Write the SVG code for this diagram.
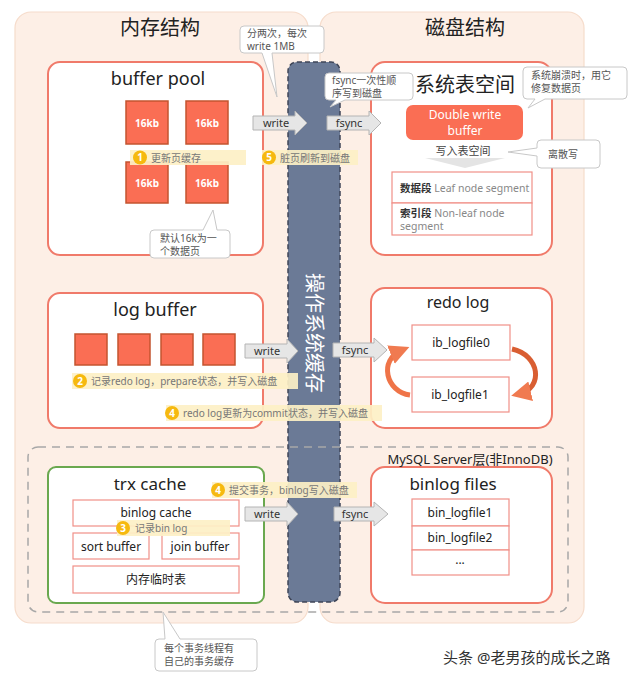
<svg xmlns="http://www.w3.org/2000/svg" width="640" height="681" viewBox="0 0 640 681">
<style>
text{font-family:"Noto Sans","Noto Sans CJK SC",sans-serif;}
.panel{fill:#fdefe6;stroke:#f6dccb;stroke-width:1.2;}
.box{fill:#fff;stroke:#f07a6a;stroke-width:2;}
.gbox{fill:#fff;stroke:#6aa84f;stroke-width:2;}
.cell{fill:#fff;stroke:#f09088;stroke-width:1.2;}
.sq{fill:#fa6e54;stroke:#c4542f;stroke-width:1.5;}
.band{fill:#fdf0c6;opacity:0.92;}
.num{fill:#f6b90f;}
.numt{fill:#fff;font-size:10px;font-weight:bold;text-anchor:middle;}
.bt{fill:#777;font-size:10px;}
.call{fill:#fff;stroke:#c8c8c8;stroke-width:1;}
.ct{fill:#555;font-size:10px;}
.arr{fill:#e6e6e6;stroke:#b4b4b4;stroke-width:1;}
.at{fill:#333;font-size:11px;text-anchor:middle;}
.title{fill:#222;font-size:18px;text-anchor:middle;}
.ht{fill:#222;font-size:20px;text-anchor:middle;}
.lt{fill:#222;font-size:12px;text-anchor:middle;}
</style>
<defs>
<marker id="ah" viewBox="0 0 10 10" refX="6" refY="5" markerWidth="4" markerHeight="4" orient="auto"><path d="M0,0 L10,5 L0,10 Z" fill="#f07a50"/></marker>
</defs>

<g id="memory-panel">
<rect class="panel" x="15" y="12" width="293" height="611" rx="16"/>
<text class="ht" x="160" y="35">内存结构</text>
</g>
<g id="disk-panel">
<rect class="panel" x="320" y="12" width="264" height="611" rx="16"/>
<text class="ht" x="465" y="35">磁盘结构</text>
</g>

<g id="buffer-pool">
<rect class="box" x="48" y="62" width="215" height="193" rx="12"/>
<text class="title" x="158" y="85">buffer pool</text>
<rect class="sq" x="126" y="101" width="42" height="43"/>
<rect class="sq" x="186" y="101" width="42" height="43"/>
<rect class="sq" x="126" y="162" width="42" height="41"/>
<rect class="sq" x="186" y="162" width="42" height="41"/>
<text x="147" y="127" fill="#fff" font-size="10" font-weight="bold" text-anchor="middle">16kb</text>
<text x="207" y="127" fill="#fff" font-size="10" font-weight="bold" text-anchor="middle">16kb</text>
<text x="147" y="187" fill="#fff" font-size="10" font-weight="bold" text-anchor="middle">16kb</text>
<text x="207" y="187" fill="#fff" font-size="10" font-weight="bold" text-anchor="middle">16kb</text>
</g>

<g id="sys-tablespace">
<rect class="box" x="371" y="62" width="181" height="193" rx="14"/>
<text class="ht" x="465" y="92">系统表空间</text>
<rect x="406" y="105" width="117" height="35" rx="7" fill="#fa6e54"/>
<text x="465" y="119" fill="#fff" font-size="12" text-anchor="middle">Double write</text>
<text x="465" y="135" fill="#fff" font-size="12" text-anchor="middle">buffer</text>
<text x="463" y="155" fill="#444" font-size="11" text-anchor="middle">写入表空间</text>
<path d="M425,158 L505,158 L465,168 Z" fill="#e4e4e4"/>
<rect class="cell" x="392" y="172" width="140" height="31"/>
<rect class="cell" x="392" y="203" width="140" height="32"/>
<text x="400" y="192" font-size="10.5"><tspan font-weight="bold" fill="#333">数据段</tspan><tspan fill="#888"> Leaf node segment</tspan></text>
<text x="400" y="217" font-size="10.5"><tspan font-weight="bold" fill="#333">索引段</tspan><tspan fill="#888"> Non-leaf node</tspan></text>
<text x="400" y="230" font-size="10.5" fill="#888">segment</text>
</g>

<g id="log-buffer">
<rect class="box" x="48" y="293" width="215" height="135" rx="12"/>
<text class="title" x="155" y="316">log buffer</text>
<rect class="sq" x="75" y="334" width="32" height="31"/>
<rect class="sq" x="118" y="334" width="32" height="31"/>
<rect class="sq" x="161" y="334" width="32" height="31"/>
<rect class="sq" x="203" y="334" width="32" height="31"/>
</g>

<g id="redo-log">
<rect class="box" x="371" y="288" width="181" height="140" rx="14"/>
<text x="458" y="308" fill="#222" font-size="16" text-anchor="middle">redo log</text>
<rect class="cell" x="412" y="325" width="98" height="35"/>
<rect class="cell" x="412" y="377" width="97" height="35"/>
<text class="lt" x="461" y="347">ib_logfile0</text>
<text class="lt" x="460" y="399">ib_logfile1</text>
</g>

<g id="trx-cache">
<rect class="gbox" x="48" y="467" width="216" height="136" rx="8"/>
<text x="150" y="490" fill="#222" font-size="17" text-anchor="middle">trx cache</text>
<rect class="cell" x="73" y="500" width="166" height="26"/>
<rect class="cell" x="73" y="533" width="76" height="26"/>
<rect class="cell" x="162" y="533" width="77" height="26"/>
<rect class="cell" x="73" y="566" width="166" height="27"/>
<text class="lt" x="156" y="517">binlog cache</text>
<text class="lt" x="111" y="551">sort buffer</text>
<text class="lt" x="200" y="551">join buffer</text>
<text class="lt" x="156" y="584">内存临时表</text>
</g>

<g id="binlog-files">
<rect class="box" x="371" y="467" width="181" height="136" rx="14"/>
<text x="453" y="490" fill="#222" font-size="17" text-anchor="middle">binlog files</text>
<rect class="cell" x="412" y="499" width="97" height="27"/>
<rect class="cell" x="412" y="526" width="97" height="24"/>
<rect class="cell" x="412" y="550" width="97" height="25"/>
<text class="lt" x="460" y="517" font-size="11">bin_logfile1</text>
<text class="lt" x="460" y="542" font-size="11">bin_logfile2</text>
<text class="lt" x="460" y="564" font-size="11">...</text>
</g>

<g id="os-cache">
<rect x="288" y="62" width="52" height="540" rx="9" fill="#6b7a96" stroke="#3f4658" stroke-width="1.5" stroke-dasharray="5,3"/>
<text x="314" y="333" fill="#fff" font-size="20" text-anchor="middle" dominant-baseline="central" transform="rotate(90 314 333)">操作系统缓存</text>
</g>

<g id="mysql-server">
<rect x="28" y="447" width="540" height="165" rx="10" fill="none" stroke="#a8a8a8" stroke-width="1.5" stroke-dasharray="8,6"/>
<text x="470" y="464" fill="#222" font-size="13" text-anchor="middle">MySQL Server层(非InnoDB)</text>
</g>

<g id="connectors">
<path class="arr" d="M253,116 L295,116 L295,111 L307,123 L295,135 L295,130 L253,130 Z"/>
<text class="at" x="276" y="127">write</text>
<path class="arr" d="M327,116 L369,116 L369,111 L381,123 L369,135 L369,130 L327,130 Z"/>
<text class="at" x="349" y="127">fsync</text>
<path class="arr" d="M245,344 L287,344 L287,339 L298,351 L287,363 L287,358 L245,358 Z"/>
<text class="at" x="267" y="355">write</text>
<path class="arr" d="M333,343 L374,343 L374,338 L387,350 L374,362 L374,357 L333,357 Z"/>
<text class="at" x="355" y="354">fsync</text>
<path class="arr" d="M245,507 L287,507 L287,502 L298,514 L287,526 L287,521 L245,521 Z"/>
<text class="at" x="267" y="518">write</text>
<path class="arr" d="M334,507 L374,507 L374,502 L388,514 L374,526 L374,521 L334,521 Z"/>
<text class="at" x="355" y="518">fsync</text>
<path d="M410,395 C386,392 378,360 402,350" fill="none" stroke="#ef7448" stroke-width="5" marker-end="url(#ah)"/>
<path d="M512,349 C540,355 544,388 519,394" fill="none" stroke="#d95e32" stroke-width="5" marker-end="url(#ah)"/>
</g>

<g id="step-1">
<rect class="band" x="130" y="150" width="116" height="15"/>
<circle class="num" cx="140" cy="157.5" r="7"/>
<text class="numt" x="140" y="161">1</text>
<text class="bt" x="151" y="161.5">更新页缓存</text>
</g>
<g id="step-5">
<rect class="band" x="262" y="150" width="96" height="15"/>
<circle class="num" cx="269" cy="157.5" r="7"/>
<text class="numt" x="269" y="161">5</text>
<text class="bt" x="280" y="161.5">脏页刷新到磁盘</text>
</g>
<g id="step-2">
<rect class="band" x="72" y="373" width="226" height="16"/>
<circle class="num" cx="80" cy="381" r="7"/>
<text class="numt" x="80" y="384.5">2</text>
<text class="bt" x="91" y="385">记录redo log，prepare状态，并写入磁盘</text>
</g>
<g id="step-4a">
<rect class="band" x="166" y="405" width="216" height="16"/>
<circle class="num" cx="172" cy="413" r="7"/>
<text class="numt" x="172" y="416.5">4</text>
<text class="bt" x="183" y="417">redo log更新为commit状态，并写入磁盘</text>
</g>
<g id="step-4b">
<rect class="band" x="212" y="482" width="145" height="16"/>
<circle class="num" cx="218" cy="490" r="7"/>
<text class="numt" x="218" y="493.5">4</text>
<text class="bt" x="229" y="494">提交事务，binlog写入磁盘</text>
</g>
<g id="step-3">
<rect class="band" x="117" y="520" width="113" height="16"/>
<circle class="num" cx="123" cy="528" r="7"/>
<text class="numt" x="123" y="531.5">3</text>
<text class="bt" x="135" y="532">记录bin log</text>
</g>

<g id="note-write1mb">
<path class="call" d="M244,26 L320,26 Q324,26 324,30 L324,49 Q324,53 320,53 L272,53 L277,97 L262,53 L244,53 Q240,53 240,49 L240,30 Q240,26 244,26 Z"/>
<text class="ct" x="247" y="37">分两次，每次</text>
<text class="ct" x="247" y="50">write 1MB</text>
</g>
<g id="note-fsync">
<path class="call" d="M329,73 L409,73 Q413,73 413,77 L413,96 Q413,100 409,100 L345,100 L330,107 L336,100 L329,100 Q325,100 325,96 L325,77 Q325,73 329,73 Z"/>
<text class="ct" x="332" y="84">fsync一次性顺</text>
<text class="ct" x="332" y="97">序写到磁盘</text>
</g>
<g id="note-crash">
<path class="call" d="M527,67 L623,67 Q627,67 627,71 L627,95 Q627,99 623,99 L545,99 L528,108 L535,99 L527,99 Q523,99 523,95 L523,71 Q523,67 527,67 Z"/>
<text class="ct" x="531" y="79">系统崩溃时，用它</text>
<text class="ct" x="531" y="92">修复数据页</text>
</g>
<g id="note-scatter">
<path class="call" d="M541,140 L596,140 Q600,140 600,144 L600,164 Q600,168 596,168 L541,168 Q537,168 537,164 L537,156 L508,152 L537,148 L537,144 Q537,140 541,140 Z"/>
<text class="ct" x="548" y="158">离散写</text>
</g>
<g id="note-16k">
<path class="call" d="M154,230 L203,230 L213,210 L217,230 L226,230 Q230,230 230,234 L230,254 Q230,258 226,258 L154,258 Q150,258 150,254 L150,234 Q150,230 154,230 Z"/>
<text class="ct" x="160" y="242">默认16k为一</text>
<text class="ct" x="160" y="255">个数据页</text>
</g>
<g id="note-trx">
<path class="call" d="M159,639 L165,639 L163,612 L180,639 L253,639 Q257,639 257,643 L257,667 Q257,671 253,671 L159,671 Q155,671 155,667 L155,643 Q155,639 159,639 Z"/>
<text class="ct" x="164" y="652">每个事务线程有</text>
<text class="ct" x="164" y="665">自己的事务缓存</text>
</g>

<text x="443" y="663" fill="#333" font-size="15">头条 @老男孩的成长之路</text>
</svg>
